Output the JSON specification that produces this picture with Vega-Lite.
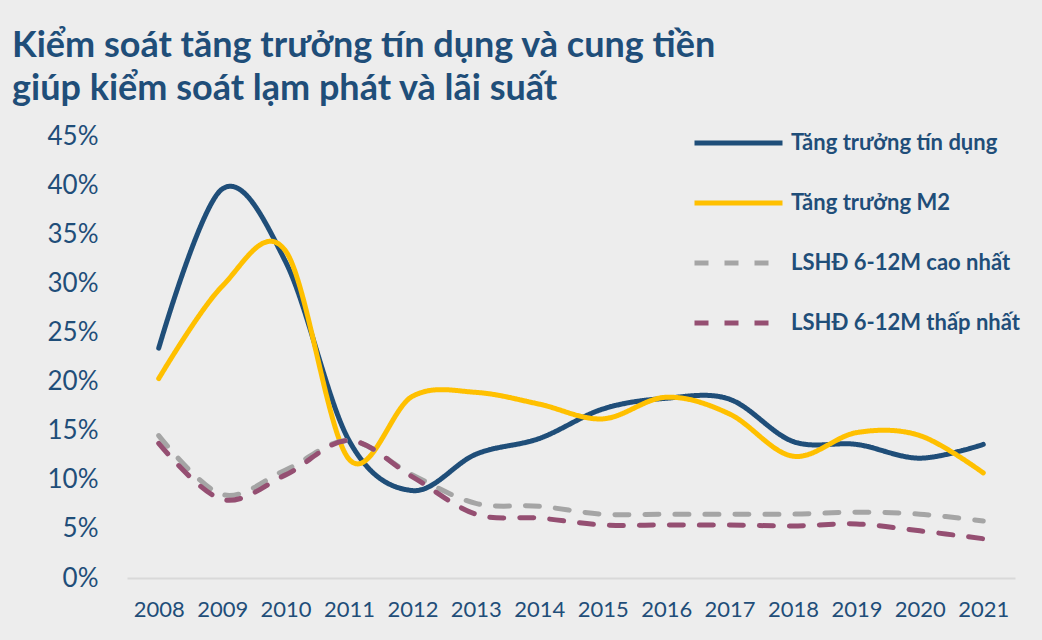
{
  "$schema": "https://vega.github.io/schema/vega-lite/v6.json",
  "autosize": {"type": "fit", "contains": "padding"},
  "width": 1042,
  "height": 640,
  "padding": {"left": 12, "right": 27, "top": 28, "bottom": 20},
  "background": "#EDEDED",
  "title": {
    "text": ["Kiểm soát tăng trưởng tín dụng và cung tiền", "giúp kiểm soát lạm phát và lãi suất"],
    "anchor": "start",
    "frame": "bounds",
    "dx": -35,
    "font": "Lato",
    "fontSize": 36,
    "fontWeight": "bold",
    "color": "#1F4E79",
    "lineHeight": 43,
    "offset": 15
  },
  "config": {
    "view": {"stroke": null},
    "font": "Lato"
  },
  "data": {
    "values": [
      {"year": "2008", "series": "Tăng trưởng tín dụng", "value": 23.4},
      {"year": "2009", "series": "Tăng trưởng tín dụng", "value": 39.6},
      {"year": "2010", "series": "Tăng trưởng tín dụng", "value": 32.2},
      {"year": "2011", "series": "Tăng trưởng tín dụng", "value": 14.0},
      {"year": "2012", "series": "Tăng trưởng tín dụng", "value": 8.9},
      {"year": "2013", "series": "Tăng trưởng tín dụng", "value": 12.6},
      {"year": "2014", "series": "Tăng trưởng tín dụng", "value": 14.2},
      {"year": "2015", "series": "Tăng trưởng tín dụng", "value": 17.2},
      {"year": "2016", "series": "Tăng trưởng tín dụng", "value": 18.3},
      {"year": "2017", "series": "Tăng trưởng tín dụng", "value": 18.2},
      {"year": "2018", "series": "Tăng trưởng tín dụng", "value": 13.9},
      {"year": "2019", "series": "Tăng trưởng tín dụng", "value": 13.6},
      {"year": "2020", "series": "Tăng trưởng tín dụng", "value": 12.2},
      {"year": "2021", "series": "Tăng trưởng tín dụng", "value": 13.6},
      {"year": "2008", "series": "Tăng trưởng M2", "value": 20.3},
      {"year": "2009", "series": "Tăng trưởng M2", "value": 29.7},
      {"year": "2010", "series": "Tăng trưởng M2", "value": 33.3},
      {"year": "2011", "series": "Tăng trưởng M2", "value": 12.1},
      {"year": "2012", "series": "Tăng trưởng M2", "value": 18.5},
      {"year": "2013", "series": "Tăng trưởng M2", "value": 18.9},
      {"year": "2014", "series": "Tăng trưởng M2", "value": 17.7},
      {"year": "2015", "series": "Tăng trưởng M2", "value": 16.2},
      {"year": "2016", "series": "Tăng trưởng M2", "value": 18.4},
      {"year": "2017", "series": "Tăng trưởng M2", "value": 16.7},
      {"year": "2018", "series": "Tăng trưởng M2", "value": 12.4},
      {"year": "2019", "series": "Tăng trưởng M2", "value": 14.8},
      {"year": "2020", "series": "Tăng trưởng M2", "value": 14.5},
      {"year": "2021", "series": "Tăng trưởng M2", "value": 10.7},
      {"year": "2008", "series": "LSHĐ 6-12M cao nhất", "value": 14.5},
      {"year": "2009", "series": "LSHĐ 6-12M cao nhất", "value": 8.5},
      {"year": "2010", "series": "LSHĐ 6-12M cao nhất", "value": 11.0},
      {"year": "2011", "series": "LSHĐ 6-12M cao nhất", "value": 14.0},
      {"year": "2012", "series": "LSHĐ 6-12M cao nhất", "value": 10.5},
      {"year": "2013", "series": "LSHĐ 6-12M cao nhất", "value": 7.6},
      {"year": "2014", "series": "LSHĐ 6-12M cao nhất", "value": 7.3},
      {"year": "2015", "series": "LSHĐ 6-12M cao nhất", "value": 6.5},
      {"year": "2016", "series": "LSHĐ 6-12M cao nhất", "value": 6.5},
      {"year": "2017", "series": "LSHĐ 6-12M cao nhất", "value": 6.5},
      {"year": "2018", "series": "LSHĐ 6-12M cao nhất", "value": 6.5},
      {"year": "2019", "series": "LSHĐ 6-12M cao nhất", "value": 6.7},
      {"year": "2020", "series": "LSHĐ 6-12M cao nhất", "value": 6.5},
      {"year": "2021", "series": "LSHĐ 6-12M cao nhất", "value": 5.8},
      {"year": "2008", "series": "LSHĐ 6-12M thấp nhất", "value": 13.7},
      {"year": "2009", "series": "LSHĐ 6-12M thấp nhất", "value": 8.0},
      {"year": "2010", "series": "LSHĐ 6-12M thấp nhất", "value": 10.5},
      {"year": "2011", "series": "LSHĐ 6-12M thấp nhất", "value": 14.0},
      {"year": "2012", "series": "LSHĐ 6-12M thấp nhất", "value": 10.3},
      {"year": "2013", "series": "LSHĐ 6-12M thấp nhất", "value": 6.5},
      {"year": "2014", "series": "LSHĐ 6-12M thấp nhất", "value": 6.1},
      {"year": "2015", "series": "LSHĐ 6-12M thấp nhất", "value": 5.4},
      {"year": "2016", "series": "LSHĐ 6-12M thấp nhất", "value": 5.4},
      {"year": "2017", "series": "LSHĐ 6-12M thấp nhất", "value": 5.4},
      {"year": "2018", "series": "LSHĐ 6-12M thấp nhất", "value": 5.3},
      {"year": "2019", "series": "LSHĐ 6-12M thấp nhất", "value": 5.5},
      {"year": "2020", "series": "LSHĐ 6-12M thấp nhất", "value": 4.8},
      {"year": "2021", "series": "LSHĐ 6-12M thấp nhất", "value": 4.0}
    ]
  },
  "mark": {"type": "line", "interpolate": "cardinal", "tension": 0, "strokeWidth": 5, "strokeCap": "round"},
  "encoding": {
    "x": {
      "field": "year",
      "type": "ordinal",
      "scale": {"type": "point", "padding": 0.5},
      "axis": {
        "title": null,
        "labelAngle": 0,
        "labelFont": "Lato",
        "labelFontSize": 22,
        "labelColor": "#1F4E79",
        "labelPadding": 21,
        "ticks": false,
        "domainColor": "#D9D9D9",
        "domainWidth": 2,
        "grid": false
      }
    },
    "y": {
      "field": "value",
      "type": "quantitative",
      "scale": {"domain": [0, 45], "nice": false},
      "axis": {
        "title": null,
        "values": [0, 5, 10, 15, 20, 25, 30, 35, 40, 45],
        "labelExpr": "datum.value + '%'",
        "labelFont": "Lato",
        "labelFontSize": 26,
        "labelColor": "#1F4E79",
        "labelPadding": 29,
        "ticks": false,
        "domain": false,
        "grid": false
      }
    },
    "color": {
      "field": "series",
      "type": "nominal",
      "sort": ["Tăng trưởng tín dụng", "Tăng trưởng M2", "LSHĐ 6-12M cao nhất", "LSHĐ 6-12M thấp nhất"],
      "scale": {
        "domain": ["Tăng trưởng tín dụng", "Tăng trưởng M2", "LSHĐ 6-12M cao nhất", "LSHĐ 6-12M thấp nhất"],
        "range": ["#1F4E79", "#FFC000", "#A5A5A5", "#954F72"]
      },
      "legend": {
        "title": null,
        "orient": "none",
        "legendX": 565,
        "legendY": -5,
        "symbolType": "stroke",
        "symbolSize": 7744,
        "symbolStrokeWidth": 5,
        "clipHeight": 24,
        "rowPadding": 36,
        "labelFont": "Lato",
        "labelFontSize": 22,
        "labelFontWeight": "bold",
        "labelColor": "#1F4E79",
        "labelOffset": 6,
        "labelLimit": 400
      }
    },
    "strokeDash": {
      "field": "series",
      "type": "nominal",
      "sort": ["Tăng trưởng tín dụng", "Tăng trưởng M2", "LSHĐ 6-12M cao nhất", "LSHĐ 6-12M thấp nhất"],
      "scale": {
        "domain": ["Tăng trưởng tín dụng", "Tăng trưởng M2", "LSHĐ 6-12M cao nhất", "LSHĐ 6-12M thấp nhất"],
        "range": [[1, 0], [1, 0], [14, 16], [14, 16]]
      },
      "legend": {
        "title": null,
        "orient": "none",
        "legendX": 565,
        "legendY": -5,
        "symbolType": "stroke",
        "symbolSize": 7744,
        "symbolStrokeWidth": 5,
        "clipHeight": 24,
        "rowPadding": 36,
        "labelFont": "Lato",
        "labelFontSize": 22,
        "labelFontWeight": "bold",
        "labelColor": "#1F4E79",
        "labelOffset": 6,
        "labelLimit": 400
      }
    }
  }
}
